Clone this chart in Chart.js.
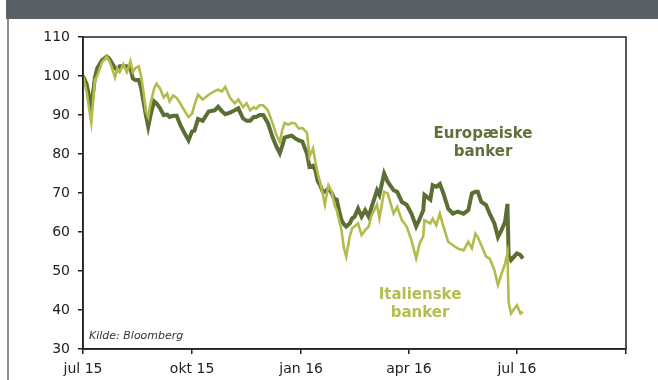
<!DOCTYPE html>
<html>
<head>
<meta charset="utf-8">
<script src="https://cdn.jsdelivr.net/npm/chart.js@4.4.1/dist/chart.umd.min.js"></script>
<style>
  html, body { margin: 0; padding: 0; background: #ffffff; }
  #wrap { position: relative; width: 658px; height: 380px; overflow: hidden; background: #fff; }
  #hdr { position: absolute; left: 6px; top: 0; width: 652px; height: 19px; background: #596066; }
  #lbar { position: absolute; left: 7px; top: 19px; width: 2px; height: 361px; background: #8c8c8c; }
  canvas { position: absolute; left: 0; top: 0; }
</style>
</head>
<body>
<div id="wrap">
  <div id="hdr"></div>
  <div id="lbar"></div>
  <canvas id="c" width="658" height="380"></canvas>
</div>
<script>
// Days since 1 July 2015
const days = [0,3,7,10,12,16,20,22,24,27,29,31,34,37,40,42,44,47,49,51,53,55,57,60,62,65,68,71,73,76,79,82,85,89,92,94,97,101,106,111,114,117,120,124,128,131,135,138,141,144,146,149,152,156,160,163,166,168,170,173,176,179,182,185,189,191,194,196,198,200,202,204,207,210,212,214,216,218,220,222,225,227,229,232,235,238,241,243,248,250,254,257,262,265,269,273,277,281,284,287,288,293,295,298,301,304,308,312,316,321,325,328,331,333,336,340,343,347,350,353,356,358,359,361,363,366,369,371];
const europaeiske = [100,98,92,99.5,102,104,105,104.5,103.5,102,101.5,102.5,102.5,102.5,102,99.4,99,99,97,93.5,90,87,90,93.5,93,91.7,90,90.1,89.5,89.8,89.8,87.5,85.7,83.5,85.8,86,89,88.5,90.9,91.2,92.1,91,90.2,90.6,91.2,91.7,89.1,88.5,88.5,89.5,89.5,90,90,87.9,84.2,82,80.2,82,84.2,84.5,84.7,84,83.5,83.2,80,76.7,77,75.8,73,72,70.5,70.3,71.2,69.9,68.5,68.3,65.5,63.1,62,61.4,62.2,63.5,63.9,66,63.9,65.6,63.9,66,70.7,69.5,75,72.9,70.7,70.3,67.7,67,64.7,61.4,63.4,65.6,69.5,68.3,72,71.6,72.3,69.9,66,64.7,65.2,64.7,65.6,69.9,70.3,70.3,67.7,66.9,64.7,62.2,58.7,60.5,62.6,67.2,54,52.8,53.5,54.5,54.1,53.2];
const italienske = [100,96,88,99,100,103.5,105,104,102.5,99.6,102,101,103,101,103.8,101,102,102.5,100,96,91,89.5,93,96.8,98,96.8,94.5,95.5,93.5,95,94.4,93,91.4,89.5,90.3,92.5,95.2,94,95.2,96.1,96.5,96,97.2,94.4,93,94,92,93,91.2,92,91.6,92.5,92.5,91.2,87.8,85,83.1,86,88,87.5,88,87.8,86.5,86.7,85.4,79.3,81.4,78,75,72.8,70,67,72,70.3,67,65.6,63,60.5,56,53.7,58.9,61,61.4,62.2,59.2,60.5,61.4,63.9,67,63.5,70.3,69.9,64.7,66.4,63,61.4,57.9,53.2,57.1,58.9,63,62.2,63.4,61.7,64.7,61.4,57.5,56.6,55.8,55.3,57.5,55.8,59.6,58.7,56.6,53.7,53.2,50.2,46.4,49.3,51.9,54.6,42,39.1,40,41.2,39.1,39.5];
const tickDays = [0,92,184,275,366,458];
const tickLabels = ['jul 15','okt 15','jan 16','apr 16','jul 16',''];

const FONT = '"DejaVu Sans", Verdana, sans-serif';
const DARK = '#5b6f35';
const LIGHT = '#b3bb4b';

const toPts = (vals) => days.map((d, i) => ({ x: d, y: vals[i] }));

const framePlugin = {
  id: 'frame',
  afterDraw(chart) {
    const { ctx, chartArea: a } = chart;
    ctx.save();
    ctx.strokeStyle = '#222';
    ctx.lineWidth = 1.5;
    ctx.strokeRect(a.left, a.top, a.right - a.left, a.bottom - a.top);
    ctx.textAlign = 'center';
    ctx.textBaseline = 'middle';
    ctx.font = 'bold 15px ' + FONT;
    ctx.fillStyle = '#5e7139';
    ctx.fillText('Europæiske', 483, 134);
    ctx.fillText('banker', 483, 152);
    ctx.fillStyle = '#b5bd4f';
    ctx.fillText('Italienske', 420, 295);
    ctx.fillText('banker', 420, 313);
    ctx.textAlign = 'left';
    ctx.font = 'italic 11px ' + FONT;
    ctx.fillStyle = '#333';
    ctx.fillText('Kilde: Bloomberg', 89, 336);
    ctx.restore();
  }
};

new Chart(document.getElementById('c'), {
  type: 'line',
  data: {
    datasets: [
      { label: 'Italienske banker', data: toPts(italienske), borderColor: LIGHT, borderWidth: 2.6, pointRadius: 0, tension: 0, fill: false },
      { label: 'Europæiske banker', data: toPts(europaeiske), borderColor: DARK, borderWidth: 4, pointRadius: 0, tension: 0, fill: false }
    ]
  },
  options: {
    responsive: false,
    animation: false,
    layout: { padding: { left: 0, right: 32, top: 37, bottom: 0 } },
    plugins: { legend: { display: false }, tooltip: { enabled: false } },
    scales: {
      x: {
        type: 'linear', min: 0, max: 458,
        afterBuildTicks: (s) => { s.ticks = tickDays.map(v => ({ value: v })); },
        afterFit: (s) => { s.height = 31; },
        ticks: { autoSkip: false, maxRotation: 0, padding: 7, color: '#222', font: { family: FONT, size: 14 },
                 callback: (v, i) => tickLabels[i] },
        grid: { drawOnChartArea: false, tickLength: 5, color: '#222', lineWidth: 1.5 },
        border: { color: '#222', width: 1.5 }
      },
      y: {
        min: 30, max: 110,
        afterFit: (s) => { s.width = 83; },
        ticks: { stepSize: 10, padding: 8, color: '#222', font: { family: FONT, size: 14 } },
        grid: { drawOnChartArea: false, tickLength: 5, color: '#222', lineWidth: 1.5 },
        border: { color: '#222', width: 1.5 }
      }
    }
  },
  plugins: [framePlugin]
});
</script>
</body>
</html>
